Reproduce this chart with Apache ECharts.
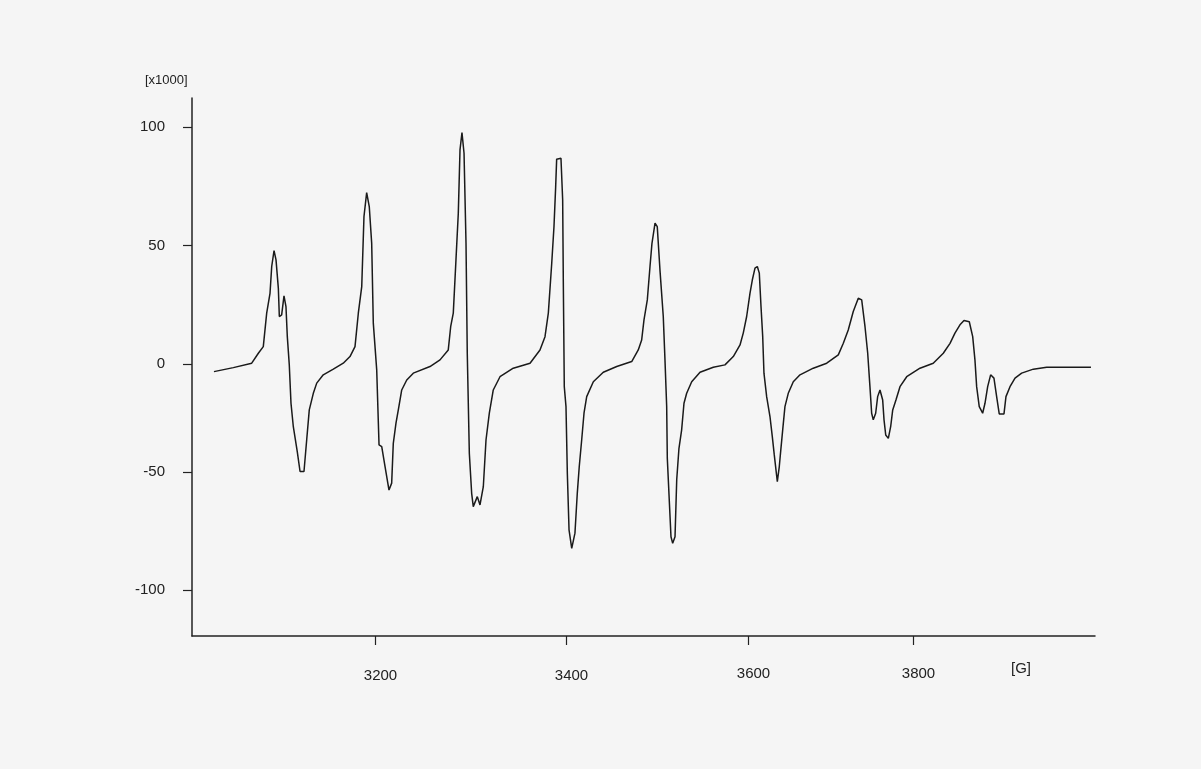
<!DOCTYPE html>
<html>
<head>
<meta charset="utf-8">
<script src="https://cdn.jsdelivr.net/npm/echarts@6/dist/echarts.min.js"></script>
<style>
html,body{margin:0;padding:0;background:#f5f5f5;}
#c{width:1201px;height:769px;}
</style>
</head>
<body>
<div id="c"></div>
<script>
// Magnetic field [G]
const field = [3020.4,3042.0,3062.5,3069.9,3075.4,3079.2,3082.9,3084.8,3087.4,3089.6,3092.2,3093.3,3095.9,3098.5,3100.7,3102.2,3104.4,3106.3,3108.9,3113.3,3116.4,3120.8,3123.8,3126.7,3131.2,3135.0,3142.3,3153.5,3164.6,3172.1,3177.7,3181.4,3185.2,3187.7,3190.7,3193.6,3196.3,3198.1,3201.9,3204.5,3207.5,3211.2,3215.6,3218.6,3220.4,3223.4,3226.0,3229.8,3235.4,3242.7,3261.3,3272.5,3281.7,3284.4,3287.3,3290.3,3292.9,3294.8,3297.0,3299.3,3301.5,3302.9,3305.2,3307.8,3309.6,3314.1,3317.1,3320.8,3323.8,3327.5,3331.9,3339.4,3354.2,3372.9,3384.0,3389.6,3393.3,3397.1,3399.6,3401.5,3402.6,3407.4,3409.3,3410.0,3411.1,3413.0,3414.5,3416.4,3419.4,3423.0,3425.6,3427.8,3430.5,3433.1,3436.1,3443.5,3454.6,3469.6,3486.3,3493.6,3497.4,3500.0,3503.7,3506.7,3508.9,3512.3,3514.8,3517.8,3521.5,3523.4,3525.3,3526.0,3528.2,3530.1,3532.0,3534.6,3536.5,3539.0,3542.0,3544.6,3547.6,3553.2,3562.5,3577.3,3590.3,3599.6,3607.1,3610.7,3614.5,3618.2,3620.8,3623.8,3626.4,3628.6,3630.5,3632.4,3633.8,3636.8,3640.5,3643.1,3645.3,3648.7,3650.9,3652.4,3654.7,3657.2,3660.9,3666.5,3674.0,3688.8,3703.8,3716.7,3722.3,3727.8,3733.4,3739.0,3742.8,3746.5,3749.5,3752.0,3753.9,3755.7,3758.4,3760.6,3763.2,3766.2,3767.7,3769.6,3772.5,3775.1,3777.4,3781.0,3785.5,3793.0,3807.8,3822.6,3833.8,3841.3,3846.8,3852.4,3856.9,3862.8,3866.6,3869.1,3871.0,3873.9,3877.7,3880.3,3883.3,3886.6,3890.3,3893.3,3896.2,3901.5,3903.7,3908.2,3913.8,3921.2,3934.2,3949.1,3998.5];
// Signal intensity [x1000]
const signal = [-3.25,-1.56,0.30,4.51,7.30,21.4,29.8,41.1,47.8,43.9,31.9,20.0,20.7,28.7,24.2,11.5,-0.42,-16.6,-26.5,-37.0,-45.4,-45.4,-32.1,-19.4,-12.4,-8.1,-4.6,-2.2,0.3,3.1,7.3,21.4,32.6,62.2,72.3,66.4,50.9,17.2,-2.5,-34.2,-34.9,-43.3,-53.2,-50.3,-33.5,-25.0,-19.4,-11.0,-6.8,-3.9,-1.1,1.7,5.9,15.7,21.4,43.9,63.6,90.3,97.6,88.9,50.9,4.5,-37.7,-54.6,-60.2,-56.0,-59.5,-51.8,-32.1,-20.8,-11.0,-5.4,-1.8,0.3,5.9,11.5,21.4,42.5,57.9,74.8,86.4,86.8,69.2,35.4,-9.6,-18.0,-46.1,-70.0,-77.8,-71.4,-54.6,-43.3,-32.1,-20.8,-13.8,-7.5,-3.5,-1.1,1.0,5.9,10.1,18.6,27.0,41.1,50.9,59.4,57.9,39.7,20.0,1.7,-18.0,-39.8,-40.5,-72.9,-75.7,-72.9,-48.9,-35.6,-27.8,-16.6,-12.4,-7.5,-3.5,-1.4,-0.4,3.1,8.0,13.0,20.0,29.8,35.4,40.4,41.1,38.3,24.2,11.5,-3.9,-13.8,-22.2,-30.7,-38.4,-49.7,-43.3,-37.0,-27.8,-18.0,-12.4,-7.5,-4.6,-1.8,0.3,3.8,8.7,14.3,22.1,27.7,27.0,15.7,4.5,-9.6,-20.8,-23.6,-20.8,-13.8,-11.0,-15.2,-23.6,-30.0,-31.4,-26.5,-19.4,-15.2,-9.6,-5.4,-1.8,0.3,4.5,8.7,13.0,16.5,18.3,17.8,11.5,1.7,-9.6,-18.0,-20.8,-16.6,-9.6,-4.6,-6.0,-13.8,-21.1,-21.1,-13.8,-9.6,-6.0,-3.9,-2.2,-1.4,-1.4];

// Tick positions (as drawn in the source) and their labels
const xTickValues = [3200, 3413, 3616, 3800];
const xTickLabels = ['3200', '3400', '3600', '3800'];
const yTickValues = [100, 50, 0, -45.6, -95.4];
const yTickLabels = ['100', '50', '0', '-50', '-100'];

const xMin = 2995.9, xMax = 4003.0;
const yMin = -114.8, yMax = 112.2;

const chart = echarts.init(document.getElementById('c'), null, {renderer: 'canvas'});
const txt = '#222222';
const font = 'Liberation Sans, Arial, sans-serif';

chart.setOption({
  backgroundColor: '#f5f5f5',
  animation: false,
  grid: {left: 192, right: 106, top: 98, bottom: 133, containLabel: false},
  xAxis: {
    type: 'value', min: xMin, max: xMax,
    axisLine: {show: true, onZero: false, lineStyle: {color: '#222', width: 1.5}},
    axisTick: {show: true, customValues: xTickValues, length: 9, lineStyle: {color: '#222', width: 1.2}},
    axisLabel: {
      show: true, customValues: xTickValues, margin: 30, color: txt, fontFamily: font, fontSize: 15,
      formatter: function (v) {
        const i = xTickValues.indexOf(v);
        const s = i >= 0 ? xTickLabels[i] : '';
        return i < 2 ? '{lo|' + s + '}' : '{hi|' + s + '}';
      },
      rich: {
        lo: {padding: [5, 0, 0, 11], lineHeight: 15, color: txt, fontFamily: font, fontSize: 15},
        hi: {padding: [0, 0, 0, 11], lineHeight: 15, color: txt, fontFamily: font, fontSize: 15}
      }
    },
    splitLine: {show: false}
  },
  yAxis: {
    type: 'value', min: yMin, max: yMax,
    axisLine: {show: true, onZero: false, lineStyle: {color: '#222', width: 1.5}},
    axisTick: {show: true, customValues: yTickValues, length: 9, lineStyle: {color: '#222', width: 1.2}},
    axisLabel: {
      show: true, customValues: yTickValues, margin: 27, color: txt, fontFamily: font, fontSize: 15,
      formatter: function (v) {
        const i = yTickValues.indexOf(v);
        return i >= 0 ? yTickLabels[i] : '';
      }
    },
    splitLine: {show: false}
  },
  graphic: [
    {type: 'text', left: 145, top: 74, style: {text: '[x1000]', fill: txt, font: '13px Liberation Sans, Arial, sans-serif'}},
    {type: 'text', left: 1011, top: 661, style: {text: '[G]', fill: txt, font: '15px Liberation Sans, Arial, sans-serif'}}
  ],
  series: [{
    type: 'line',
    data: field.map((x, i) => [x, signal[i]]),
    showSymbol: false,
    smooth: false,
    lineStyle: {color: '#1a1a1a', width: 1.5},
    clip: true
  }]
});
</script>
</body>
</html>
